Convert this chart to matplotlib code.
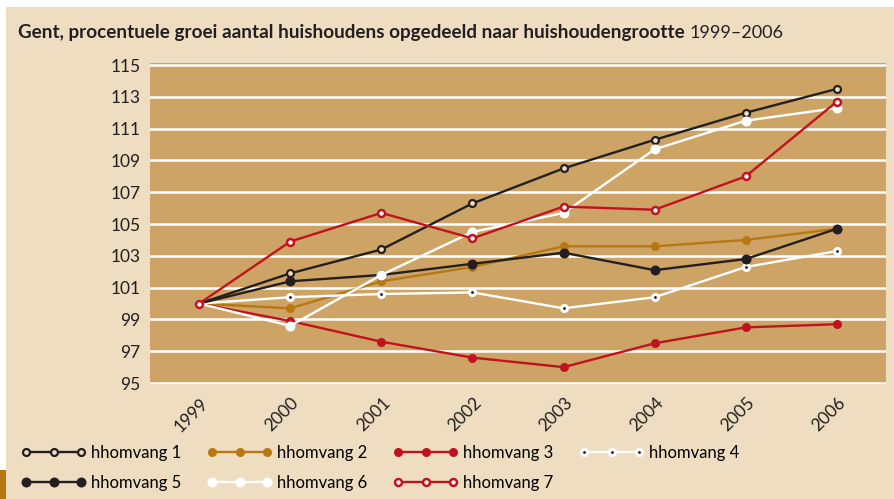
import matplotlib
matplotlib.use("Agg")
import matplotlib.pyplot as plt
import matplotlib.patches as patches
from matplotlib.transforms import ScaledTranslation

# --- data ---
years = ["1999", "2000", "2001", "2002", "2003", "2004", "2005", "2006"]
labels = ["hhomvang 1", "hhomvang 2", "hhomvang 3", "hhomvang 4",
          "hhomvang 5", "hhomvang 6", "hhomvang 7"]

hh1 = [100, 101.9, 103.4, 106.3, 108.5, 110.3, 112.0, 113.5]
hh2 = [100, 99.7, 101.4, 102.3, 103.6, 103.6, 104.0, 104.7]
hh3 = [100, 98.9, 97.6, 96.6, 96.0, 97.5, 98.5, 98.7]
hh4 = [100, 100.4, 100.6, 100.7, 99.7, 100.4, 102.3, 103.3]
hh5 = [100, 101.4, 101.8, 102.5, 103.2, 102.1, 102.8, 104.7]
hh6 = [100, 98.6, 101.8, 104.5, 105.7, 109.7, 111.5, 112.3]
hh7 = [100, 103.9, 105.7, 104.1, 106.1, 105.9, 108.0, 112.7]

# --- colours ---
BG = "#EEDDC0"
PLOT_BG = "#CDA466"
BLACK = "#231F20"
GOLD = "#B7780F"
RED = "#C1121F"
WHITE = "#FFFFFF"

plt.rcParams['font.family'] = ['Lato', 'DejaVu Sans']

fig = plt.figure(figsize=(8.95, 4.99), dpi=100, facecolor=BG)

# decorative frame bits (white top/left strip, gold corner tab)
fig.patches.append(patches.Rectangle((0, 1 - 7 / 499), 1, 7 / 499, transform=fig.transFigure,
                                     facecolor="white", edgecolor="none", zorder=0))
fig.patches.append(patches.Rectangle((0, 0), 6 / 895, 1, transform=fig.transFigure,
                                     facecolor="white", edgecolor="none", zorder=0))
fig.patches.append(patches.Rectangle((0, 0), 6 / 895, 29 / 499, transform=fig.transFigure,
                                     facecolor=GOLD, edgecolor="none", zorder=1))

ax = fig.add_axes([150 / 895, 115 / 499, 736 / 895, 321 / 499])
ax.set_facecolor(PLOT_BG)
for s in ax.spines.values():
    s.set_visible(False)

x = list(range(len(years)))
lw = 1.7

styles = [
    (hh1, dict(color=BLACK, marker='o', ms=5, mfc=BG, mec=BLACK, mew=1.6)),
    (hh2, dict(color=GOLD, marker='o', ms=6.5, mfc=GOLD, mec=GOLD, mew=0)),
    (hh3, dict(color=RED, marker='o', ms=6.5, mfc=RED, mec=RED, mew=0)),
    (hh4, dict(color=WHITE, marker='o', ms=4.3, mfc=BLACK, mec=WHITE, mew=2.2)),
    (hh5, dict(color=BLACK, marker='o', ms=7.2, mfc=BLACK, mec=BLACK, mew=0)),
    (hh6, dict(color=WHITE, marker='o', ms=7.2, mfc=WHITE, mec=WHITE, mew=0)),
    (hh7, dict(color=RED, marker='o', ms=5, mfc=WHITE, mec=RED, mew=1.8)),
]

handles = []
for (vals, st), lab in zip(styles, labels):
    h, = ax.plot(x, vals, lw=lw, label=lab, zorder=3, **st)
    handles.append(h)

ax.set_xlim(-0.54, 7.54)
ax.set_ylim(94.94, 115.13)
ax.set_yticks(range(95, 116, 2))
ax.yaxis.grid(True, color=WHITE, lw=1.8)
ax.set_axisbelow(True)
ax.tick_params(axis='both', length=0, labelsize=12.5, colors=BLACK)
ax.tick_params(axis='y', pad=7)
ax.set_xticks(x)
ax.set_xticklabels(years, rotation=45, ha='center', va='top')
off = ScaledTranslation(-8 / 100, -6 / 100, fig.dpi_scale_trans)
for t in ax.get_xticklabels():
    t.set_transform(t.get_transform() + off)

# title: bold part + regular year range
fig.canvas.draw()
renderer = fig.canvas.get_renderer()
t1 = fig.text(18 / 895, 1 - 38 / 499,
              "Gent, procentuele groei aantal huishoudens opgedeeld naar huishoudengrootte",
              fontsize=13.6, fontweight='bold', color=BLACK, va='baseline', ha='left')
bb = t1.get_window_extent(renderer)
fig.text((bb.x1 + 5) / 895, 1 - 38 / 499, "1999–2006",
         fontsize=13, color=BLACK, va='baseline', ha='left')

# legend, row-major order
order = [0, 4, 1, 5, 2, 6, 3]
fig.legend([handles[i] for i in order], [labels[i] for i in order],
           loc='upper left', bbox_to_anchor=(21 / 895, 1 - 445 / 499),
           ncol=4, frameon=False, fontsize=12, numpoints=3,
           handlelength=3.9, handletextpad=0.3, columnspacing=1.55,
           labelspacing=0.85, borderaxespad=0, borderpad=0)

fig.savefig("out.png", dpi=100, facecolor=BG)
